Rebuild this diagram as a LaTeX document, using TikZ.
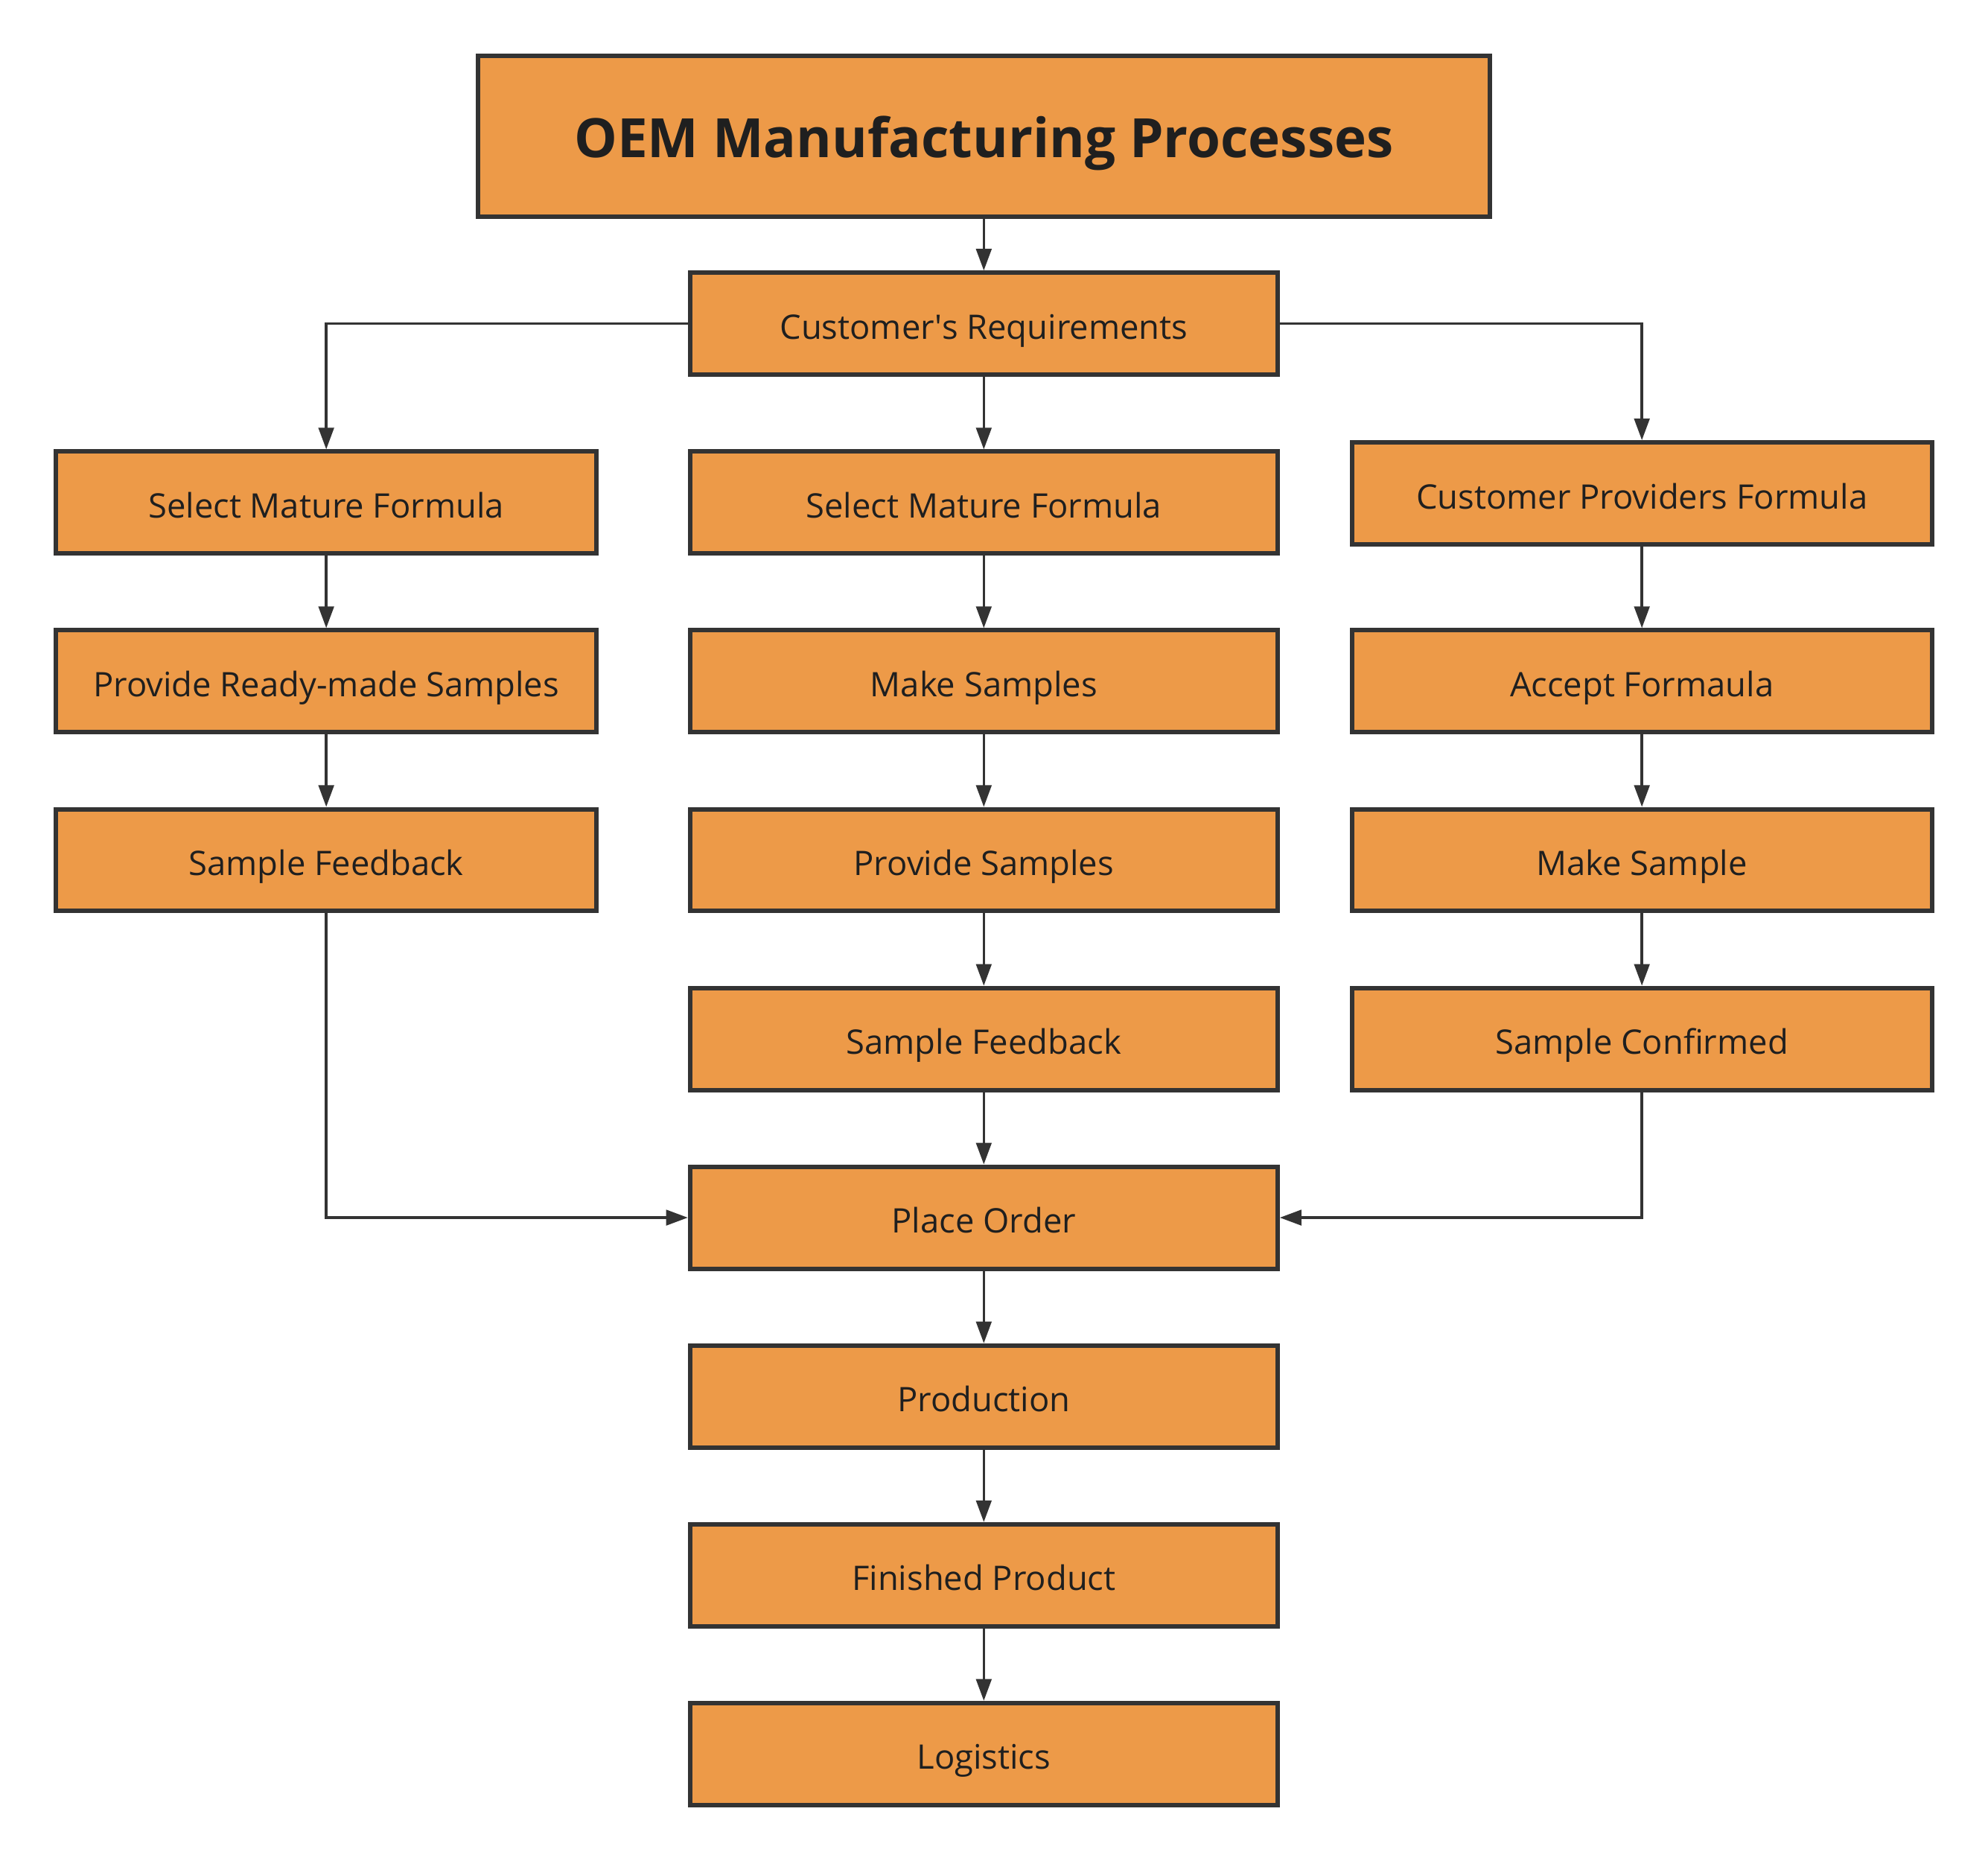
\documentclass[tikz,border=0pt]{standalone}
\usepackage{fontspec}
\setmainfont{Open Sans}
\usetikzlibrary{arrows.meta}
\definecolor{boxfill}{HTML}{ED9A48}
\definecolor{boxline}{HTML}{333333}
\begin{document}
\begin{tikzpicture}[x=1pt,y=-1pt,
  stepbox/.style={draw=boxline,line width=3.5pt,fill=boxfill,minimum height=80pt,inner sep=0pt,text height=30pt,text depth=6pt,font=\fontsize{26.5}{31}\selectfont,text=black!88},
  conn/.style={draw=boxline,line width=2pt,-{Triangle[length=17pt,width=12pt]}}]
\fill[white] (0,0) rectangle (1560,1460);
\useasboundingbox (0,0) rectangle (1560,1460);
\node[stepbox,minimum width=794pt,minimum height=126pt,text height=43pt,text depth=10pt,font=\fontsize{42.5}{50}\selectfont\bfseries] (title) at (772,107) {OEM Manufacturing Processes};
\node[stepbox,minimum width=461pt] (cust) at (772,254) {Customer\textquotesingle s Requirements};
% left column
\node[stepbox,minimum width=424pt] (l1) at (256,394.3) {Select Mature Formula};
\node[stepbox,minimum width=424pt] (l2) at (256,534.5) {Provide Ready-made Samples};
\node[stepbox,minimum width=424pt] (l3) at (256,674.8) {Sample Feedback};
% middle column
\node[stepbox,minimum width=461pt] (m1) at (772,394.3) {Select Mature Formula};
\node[stepbox,minimum width=461pt] (m2) at (772,534.5) {Make Samples};
\node[stepbox,minimum width=461pt] (m3) at (772,674.8) {Provide Samples};
\node[stepbox,minimum width=461pt] (m4) at (772,815.1) {Sample Feedback};
\node[stepbox,minimum width=461pt] (po) at (772,955.3) {Place Order};
\node[stepbox,minimum width=461pt] (prod) at (772,1095.6) {Production};
\node[stepbox,minimum width=461pt] (fin) at (772,1235.9) {Finished Product};
\node[stepbox,minimum width=461pt] (log) at (772,1376.1) {Logistics};
% right column
\node[stepbox,minimum width=455pt] (r1) at (1288.4,387.1) {Customer Providers Formula};
\node[stepbox,minimum width=455pt] (r2) at (1288.4,534.5) {Accept Formaula};
\node[stepbox,minimum width=455pt] (r3) at (1288.4,674.8) {Make Sample};
\node[stepbox,minimum width=455pt] (r4) at (1288.4,815.1) {Sample Confirmed};
% connectors
\draw[conn] (title) -- (cust);
\draw[conn] (cust.west) -| (l1.north);
\draw[conn] (cust) -- (m1);
\draw[conn] (cust.east) -| (r1.north);
\draw[conn] (l1) -- (l2);
\draw[conn] (l2) -- (l3);
\draw[conn] (l3.south) |- (po.west);
\draw[conn] (m1) -- (m2);
\draw[conn] (m2) -- (m3);
\draw[conn] (m3) -- (m4);
\draw[conn] (m4) -- (po);
\draw[conn] (po) -- (prod);
\draw[conn] (prod) -- (fin);
\draw[conn] (fin) -- (log);
\draw[conn] (r1) -- (r2);
\draw[conn] (r2) -- (r3);
\draw[conn] (r3) -- (r4);
\draw[conn] (r4.south) |- (po.east);
\end{tikzpicture}
\end{document}
